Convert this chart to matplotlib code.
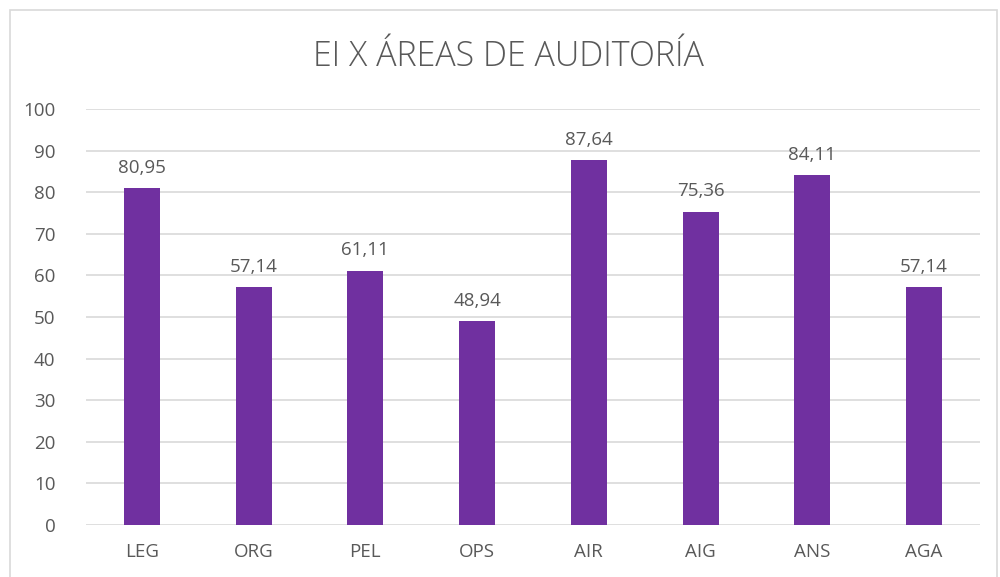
import matplotlib.pyplot as plt
from matplotlib.patches import Rectangle

areas = ['LEG', 'ORG', 'PEL', 'OPS', 'AIR', 'AIG', 'ANS', 'AGA']
valores = [80.95, 57.14, 61.11, 48.94, 87.64, 75.36, 84.11, 57.14]
etiquetas = ['80,95', '57,14', '61,11', '48,94', '87,64', '75,36', '84,11', '57,14']

plt.rcParams['font.family'] = ['Open Sans', 'DejaVu Sans']
gris = '#595959'

fig = plt.figure(figsize=(10, 5.77), dpi=100)
fig.patches.append(Rectangle((0.010, -0.01), 0.987, 0.993, transform=fig.transFigure,
                             fill=False, edgecolor='#d9d9d9', linewidth=1.2))
ax = fig.add_axes([0.086, 0.0901, 0.894, 0.7209])

x = range(len(areas))
barras = ax.bar(x, valores, width=0.32, color='#7030A0', zorder=3)
for b, t in zip(barras, etiquetas):
    ax.text(b.get_x() + b.get_width() / 2, b.get_height() + 2.8, t,
            ha='center', va='bottom', fontsize=13.5, color=gris)

ax.set_xlim(-0.5, len(areas) - 0.5)
ax.set_ylim(0, 100)
ax.set_yticks(range(0, 101, 10))
ax.set_xticks(list(x))
ax.set_xticklabels(areas)
ax.grid(axis='y', color='#d9d9d9', linewidth=1.2, zorder=0)
for s in ax.spines.values():
    s.set_visible(False)
ax.tick_params(length=0, labelsize=13.5, colors=gris)
ax.tick_params(axis='x', pad=13)
ax.tick_params(axis='y', pad=22)

fig.text(0.508, 0.902, 'EI X ÁREAS DE AUDITORÍA', ha='center', va='center',
         fontsize=24.5, color=gris, fontweight='light')

fig.savefig('out.png', dpi=100)
